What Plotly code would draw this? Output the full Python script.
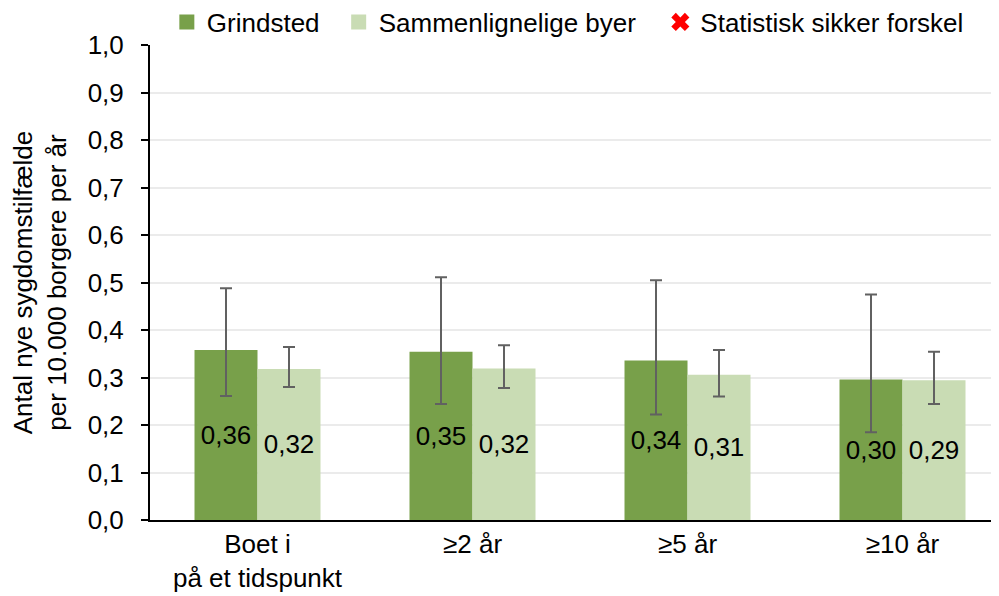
import plotly.graph_objects as go

# Data
categories = ["Boet i<br>på et tidspunkt", "≥2 år", "≥5 år", "≥10 år"]

grindsted = [0.358, 0.354, 0.336, 0.296]
grindsted_hi = [0.488, 0.511, 0.505, 0.475]
grindsted_lo = [0.261, 0.244, 0.222, 0.185]

similar = [0.318, 0.319, 0.306, 0.294]
similar_hi = [0.364, 0.368, 0.358, 0.354]
similar_lo = [0.280, 0.278, 0.260, 0.244]

GREEN_DARK = "#78A04A"
GREEN_LIGHT = "#C9DCB4"
ERR_COLOR = "#616161"
FONT = "Liberation Sans, Arial, sans-serif"
FS = 26


def _fmt(vals):
    return [f"{v:.2f}".replace(".", ",") for v in vals]


def _bar(name, vals, hi, lo, color):
    return go.Bar(
        x=categories,
        y=vals,
        name=name,
        showlegend=False,
        marker=dict(color=color, line=dict(width=0)),
        text=_fmt(vals),
        textposition="inside",
        insidetextanchor="middle",
        textangle=0,
        textfont=dict(size=FS, color="black", family=FONT),
        error_y=dict(
            type="data",
            symmetric=False,
            array=[h - v for h, v in zip(hi, vals)],
            arrayminus=[v - l for v, l in zip(vals, lo)],
            color=ERR_COLOR,
            thickness=2,
            width=6,
        ),
    )


def _legend_item(name, symbol, color, size, legend):
    return go.Scatter(
        x=[None], y=[None],
        mode="markers",
        name=name,
        legend=legend,
        marker=dict(symbol=symbol, color=color, size=size),
    )


fig = go.Figure()
fig.add_trace(_bar("Grindsted", grindsted, grindsted_hi, grindsted_lo, GREEN_DARK))
fig.add_trace(_bar("Sammenlignelige byer", similar, similar_hi, similar_lo, GREEN_LIGHT))

# legend entries, one legend each so they can be spaced like the original
fig.add_trace(_legend_item("Grindsted", "square", GREEN_DARK, 15, "legend"))
fig.add_trace(_legend_item("Sammenlignelige byer", "square", GREEN_LIGHT, 15, "legend2"))
fig.add_trace(_legend_item("Statistisk sikker forskel", "x", "#FF0000", 18, "legend3"))

legend_common = dict(
    orientation="h",
    xref="container", yref="container",
    xanchor="left",
    y=0.9765, yanchor="middle",
    font=dict(size=FS),
    bgcolor="rgba(0,0,0,0)",
    itemwidth=30,
)

fig.update_layout(
    width=999,
    height=596,
    margin=dict(l=142, r=0, t=37, b=84, autoexpand=False),
    paper_bgcolor="white",
    plot_bgcolor="white",
    separators=", ",
    font=dict(family=FONT, size=FS, color="black"),
    barmode="group",
    bargap=0.414,
    bargroupgap=0,
    uniformtext=dict(minsize=FS, mode="show"),
    showlegend=True,
    legend=dict(x=0.159, **legend_common),
    legend2=dict(x=0.331, **legend_common),
    legend3=dict(x=0.653, **legend_common),
    xaxis=dict(
        range=[-0.5, 3.486],
        showline=True,
        linecolor="black",
        linewidth=2,
        ticks="",
        showgrid=False,
        tickfont=dict(size=FS),
        automargin=False,
    ),
    yaxis=dict(
        range=[0, 1.0],
        dtick=0.1,
        tickformat=".1f",
        showline=True,
        linecolor="black",
        linewidth=2,
        ticks="outside",
        ticklen=7,
        tickwidth=2,
        tickcolor="black",
        ticklabelstandoff=12,
        showgrid=True,
        gridcolor="#EBEBEB",
        gridwidth=2,
        zeroline=False,
        tickfont=dict(size=FS),
        automargin=False,
        title=dict(
            text="Antal nye sygdomstilfælde<br>per 10.000 borgere per år",
            font=dict(size=FS),
            standoff=16,
        ),
    ),
)

fig.write_html("out.html")
